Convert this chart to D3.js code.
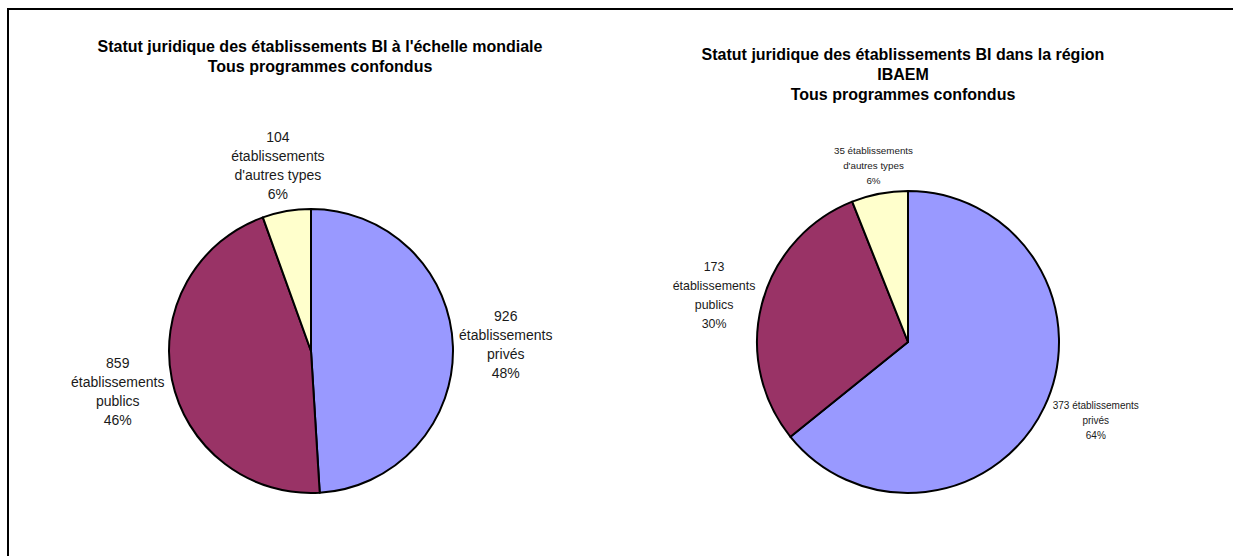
<!DOCTYPE html>
<html><head><meta charset="utf-8">
<script src="https://cdn.jsdelivr.net/npm/d3@7/dist/d3.min.js"></script>
<style>
html,body{margin:0;padding:0;background:#fff;overflow:hidden;}
svg{display:block;font-family:"Liberation Sans",Arial,sans-serif;}
</style></head>
<body>
<svg id="c" width="1233" height="556"></svg>
<script>
// ---- data ----
const categories = ["privés", "publics", "autres"];
const colors = ["#9999FF", "#993366", "#FFFFCC"];
const worldValues = [926, 859, 104];
const worldPercents = ["48%", "46%", "6%"];
const worldLabels = [
  ["926", "établissements", "privés"],
  ["859", "établissements", "publics"],
  ["104", "établissements", "d'autres types"]
];
const worldTitle = ["Statut juridique des établissements BI à l'échelle mondiale", "Tous programmes confondus"];

const regionValues = [373, 173, 35];
const regionPercents = ["64%", "30%", "6%"];
const regionLabels = [
  ["373 établissements", "privés"],
  ["173", "établissements", "publics"],
  ["35 établissements", "d'autres types"]
];
const regionTitle = ["Statut juridique des établissements BI dans la région", "IBAEM", "Tous programmes confondus"];

// ---- drawing ----
const svg = d3.select("#c");
svg.append("path").attr("d", d3.line()([[8, 600], [8, 9], [1300, 9]]))
  .attr("fill", "none").attr("stroke", "#000").attr("stroke-width", 2);

function drawPie(cfg) {
  const g = svg.append("g");
  const t = g.append("text").attr("text-anchor", "middle").attr("font-weight", "bold")
    .attr("font-size", cfg.titleFont).attr("fill", "#000");
  cfg.title.forEach((line, i) => {
    t.append("tspan").attr("x", cfg.titleX).attr("y", cfg.titleY + i * 20).text(line);
  });
  const pie = d3.pie().sort(null).value(d => d.v);
  const data = cfg.values.map((v, i) => ({v, i}));
  const arcs = pie(data);
  const arc = d3.arc().innerRadius(0).outerRadius(cfg.r);
  const pg = g.append("g").attr("transform", `translate(${cfg.cx},${cfg.cy})`);
  pg.selectAll("path").data(arcs).join("path")
    .attr("d", arc).attr("fill", d => colors[d.data.i])
    .attr("stroke", "#000").attr("stroke-width", 2).attr("stroke-linejoin", "round");
  arcs.forEach((a, idx) => {
    const lines = cfg.labels[idx].concat([cfg.percents[idx]]);
    const fs = cfg.labelFont[idx], lh = cfg.labelLH[idx];
    const txt = g.append("text").attr("text-anchor", "middle").attr("font-size", fs).attr("fill", "#1a1a1a");
    const tsp = lines.map((l, k) => txt.append("tspan").attr("x", 0).attr("dy", k === 0 ? 0 : lh).text(l));
    const w = d3.max(tsp, s => s.node().getComputedTextLength());
    const h = lines.length * lh;
    const mid = (a.startAngle + a.endAngle) / 2;
    const ux = Math.sin(mid), uy = -Math.cos(mid);
    const ext = Math.abs(ux) * w / 2 + Math.abs(uy) * h / 2;
    const d = cfg.r + cfg.pad + ext;
    const nd = cfg.nudge[idx];
    const lx = cfg.cx + ux * d + nd[0], ly = cfg.cy + uy * d + nd[1];
    const y0 = ly - h / 2 + lh / 2 + fs * 0.35;
    txt.attr("transform", `translate(${lx},${y0})`);
  });
}

drawPie({title: worldTitle, titleX: 320, titleY: 52, titleFont: 16, cx: 311, cy: 351, r: 142, pad: 5,
  values: worldValues, labels: worldLabels, percents: worldPercents,
  labelFont: [14, 14, 14], labelLH: [19, 19, 19], nudge: [[0, 0], [3, 0], [0, 4]]});
drawPie({title: regionTitle, titleX: 903, titleY: 60, titleFont: 16, cx: 908, cy: 342, r: 151, pad: 3,
  values: regionValues, labels: regionLabels, percents: regionPercents,
  labelFont: [10, 12.4, 9.8], labelLH: [15, 19, 15], nudge: [[5, -9], [3, 5], [0, 4]]});
</script>
</body></html>
